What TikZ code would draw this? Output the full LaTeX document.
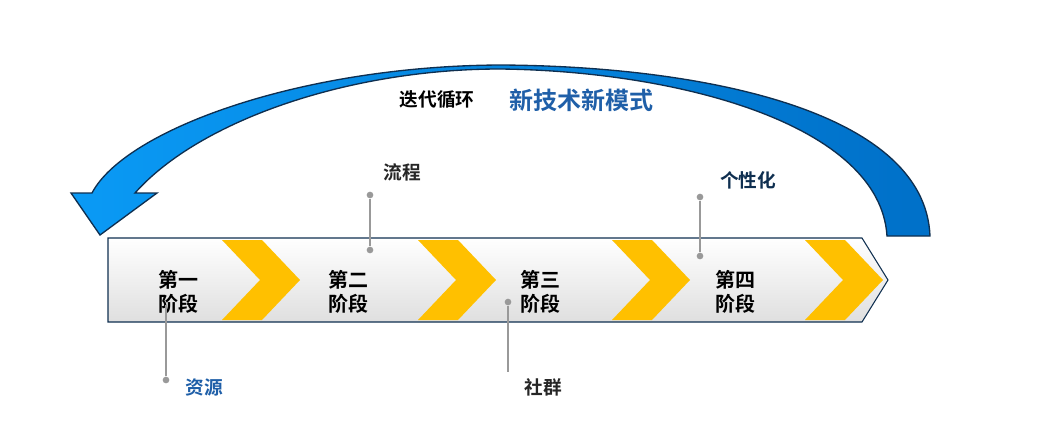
\documentclass[tikz,border=0pt]{standalone}
\usepackage{fontspec}
\setmainfont{Noto Sans CJK SC}[BoldFont={Noto Sans CJK SC Bold}]
\usetikzlibrary{positioning}
\definecolor{chev}{HTML}{FFC000}
\definecolor{darkblue}{HTML}{0F2F50}
\definecolor{txtblue}{HTML}{1F5FA8}
\definecolor{arrowleft}{HTML}{0A9AF5}
\definecolor{arrowright}{HTML}{0070C8}
\tikzset{
  stagetext/.style={font=\bfseries\fontsize{15}{18}\selectfont, align=left, text=black},
  pintext/.style={font=\bfseries\fontsize{14}{16}\selectfont, text=black!85},
  pin/.style={draw=gray!80, line width=1.2pt},
  pindot/.style={circle, fill=gray!80, inner sep=0pt, minimum size=5pt}
}
\begin{document}
\begin{tikzpicture}[x=0.75pt,y=-0.75pt]
\useasboundingbox (0,0) rectangle (1058,429);

% Curved feedback arrow
\shade[left color=arrowleft, right color=arrowright, draw=darkblue, line width=1pt]
  (930,236) .. controls (925,110) and (700,66) .. (500,65)
  .. controls (300,66) and (125,130) .. (92,193)
  -- (71,193) -- (100,235) -- (157,193) -- (135,193)
  .. controls (200,120) and (350,69) .. (500,69)
  .. controls (680,71) and (880,125) .. (887,236) -- cycle;

% Banner
\shade[top color=white, bottom color=gray!25, draw=darkblue, line width=0.8pt]
  (108,238) -- (862,238) -- (888,280) -- (862,322) -- (108,322) -- cycle;

% Chevrons
\foreach \cx in {222,418,612,805} {
  \fill[chev] (\cx,240) -- (\cx+40,240) -- (\cx+78,280) -- (\cx+40,320) -- (\cx,320) -- (\cx+38,280) -- cycle;
}

% Stage labels
\node[stagetext] (s1) at (178,292) {第一\\阶段};
\node[stagetext] (s2) at (348,292) {第二\\阶段};
\node[stagetext] (s3) at (540,292) {第三\\阶段};
\node[stagetext] (s4) at (735,292) {第四\\阶段};

% Pins
\node[pindot] (d1a) at (166,380) {};
\coordinate (d1b) at (166,305);
\draw[pin] (d1a) -- (d1b);
\node[pintext, text=txtblue] (p1) at (204,387) {资源};

\node[pindot] (d2a) at (370,195) {};
\node[pindot] (d2b) at (370,250) {};
\draw[pin] (d2a) -- (d2b);
\node[pintext] (p2) at (402,172) {流程};

\node[pindot] (d3a) at (508,302) {};
\coordinate (d3b) at (508,372);
\draw[pin] (d3a) -- (d3b);
\node[pintext] (p3) at (543,387) {社群};

\node[pindot] (d4a) at (700,197) {};
\node[pindot] (d4b) at (700,256) {};
\draw[pin] (d4a) -- (d4b);
\node[pintext, text=darkblue] (p4) at (748,180) {个性化};

% Title texts
\node[font=\bfseries\fontsize{14}{16}\selectfont] (t1) at (437,100) {迭代循环};
\node[font=\bfseries\fontsize{18}{20}\selectfont, text=txtblue] (t2) at (581,100) {新技术新模式};
\end{tikzpicture}
\end{document}
